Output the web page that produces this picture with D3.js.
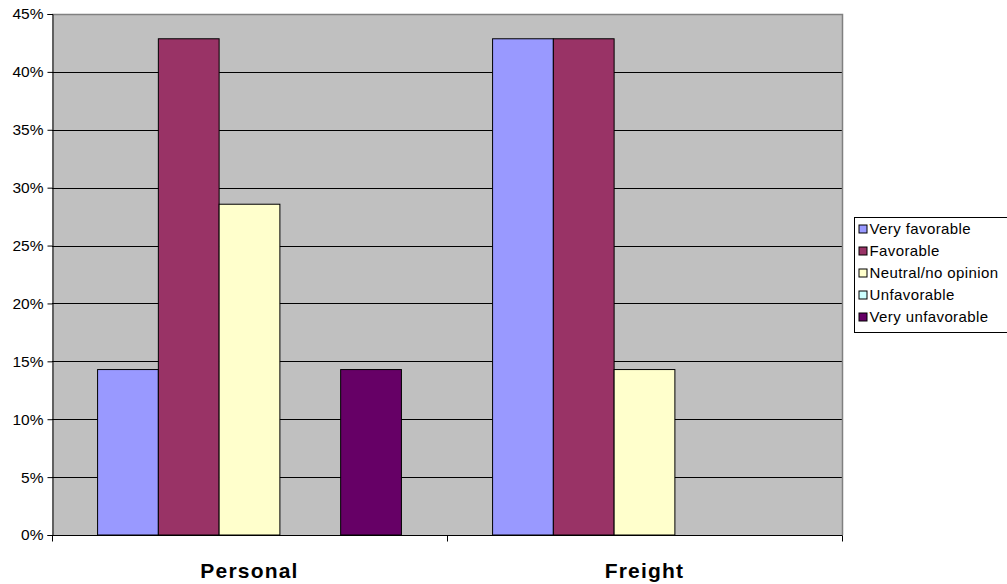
<!DOCTYPE html>
<html>
<head>
<meta charset="utf-8">
<script src="https://cdn.jsdelivr.net/npm/d3@7/dist/d3.min.js"></script>
<style>
  html, body { margin: 0; padding: 0; background: #fff; }
  svg { display: block; font-family: "Liberation Sans", Arial, sans-serif; }
</style>
</head>
<body>
<svg id="chart" width="1007" height="584"></svg>
<script>
// Survey responses by shipping type (share of respondents)
const categories = ["Personal", "Freight"];
const seriesNames = ["Very favorable", "Favorable", "Neutral/no opinion", "Unfavorable", "Very unfavorable"];
const seriesColors = ["#9999FF", "#993366", "#FFFFCC", "#CCFFFF", "#660066"];
const veryFavorable   = [0.1429, 0.4286];
const favorable       = [0.4286, 0.4286];
const neutral         = [0.2857, 0.1429];
const unfavorable     = [0, 0];
const veryUnfavorable = [0.1429, 0];
const yTicks = [0, 0.05, 0.10, 0.15, 0.20, 0.25, 0.30, 0.35, 0.40, 0.45];

const seriesValues = [veryFavorable, favorable, neutral, unfavorable, veryUnfavorable];

const svg = d3.select("#chart");
const plot = { left: 52, top: 14, right: 842, bottom: 535 };

const x0 = d3.scaleBand().domain(categories).range([plot.left, plot.right]);
// five bars per category plus a gap of 1.5 bar widths
const barW = x0.bandwidth() / 6.5;
const groupOffset = barW * 0.75;
const y = d3.scaleLinear().domain([0, 0.45]).range([plot.bottom, plot.top]);

// plot background
svg.append("rect")
  .attr("x", plot.left).attr("y", plot.top)
  .attr("width", plot.right - plot.left).attr("height", plot.bottom - plot.top)
  .attr("fill", "#C0C0C0");

// gridlines
svg.append("g").selectAll("line").data(yTicks.filter(t => t > 0 && t < 0.45)).join("line")
  .attr("x1", plot.left).attr("x2", plot.right)
  .attr("y1", d => Math.round(y(d)) + 0.5).attr("y2", d => Math.round(y(d)) + 0.5)
  .attr("stroke", "#000").attr("stroke-width", 1);

// plot border (top/right gray)
svg.append("path")
  .attr("d", `M${plot.left},${plot.top + 0.5}H${plot.right + 0.5}V${plot.bottom}`)
  .attr("fill", "none").attr("stroke", "#808080").attr("stroke-width", 1.5);

// bars
const groups = svg.append("g").selectAll("g").data(categories).join("g")
  .attr("transform", d => `translate(${x0(d) + groupOffset},0)`);

groups.selectAll("rect")
  .data((c, ci) => seriesNames.map((s, si) => ({ s, si, v: seriesValues[si][ci] })).filter(d => d.v > 0))
  .join("rect")
  .attr("x", d => d.si * barW)
  .attr("y", d => y(d.v))
  .attr("width", barW)
  .attr("height", d => plot.bottom - y(d.v))
  .attr("fill", d => seriesColors[d.si])
  .attr("stroke", "#000").attr("stroke-width", 1);

// y axis
const yAxis = d3.axisLeft(y).tickValues(yTicks).tickFormat(d3.format(".0%")).tickSize(5).tickPadding(4);
const yg = svg.append("g").attr("transform", `translate(${plot.left + 0.5},0)`).call(yAxis);
yg.select(".domain").attr("stroke", "#000");
yg.selectAll("text").attr("font-size", 15.5).attr("fill", "#000")
  .attr("font-family", "Liberation Sans, Arial, sans-serif");

// x axis
const xg = svg.append("g").attr("transform", `translate(0,${plot.bottom + 0.5})`);
xg.append("line").attr("x1", plot.left).attr("x2", plot.right + 0.5).attr("stroke", "#000");
const xTickPos = [plot.left, ...categories.map(c => x0(c) + x0.bandwidth())];
xg.selectAll("line.tick").data(xTickPos).join("line").attr("class", "tick")
  .attr("x1", d => Math.round(d) + 0.5).attr("x2", d => Math.round(d) + 0.5)
  .attr("y1", 0).attr("y2", 6).attr("stroke", "#000");
xg.selectAll("text").data(categories).join("text")
  .attr("x", d => x0(d) + x0.bandwidth() / 2)
  .attr("y", 42)
  .attr("text-anchor", "middle")
  .attr("font-size", 21).attr("font-weight", "bold")
  .attr("letter-spacing", 1.2)
  .text(d => d);

// legend
const legend = svg.append("g").attr("transform", "translate(854.5,217.5)");
legend.append("rect").attr("width", 160).attr("height", 115)
  .attr("fill", "#fff").attr("stroke", "#000").attr("stroke-width", 1);
const items = legend.selectAll("g").data(seriesNames).join("g")
  .attr("transform", (d, i) => `translate(0,${16 + i * 22})`);
items.append("rect").attr("x", 4.5).attr("y", -8.5).attr("width", 8).attr("height", 8)
  .attr("fill", (d, i) => seriesColors[i]).attr("stroke", "#000");
items.append("text").attr("x", 15).attr("y", 0).attr("font-size", 15)
  .attr("letter-spacing", 0.4).text(d => d);
</script>
</body>
</html>
